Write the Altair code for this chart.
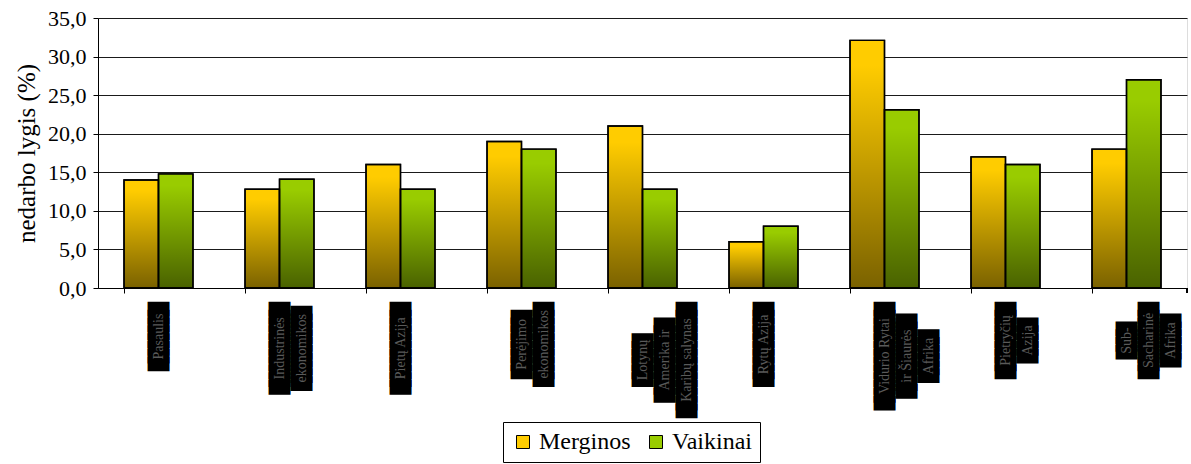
import altair as alt
import pandas as pd

# Regions, each given as the lines of its label
categories = [
    ["Pasaulis"],
    ["Industrinės", "ekonomikos"],
    ["Pietų Azija"],
    ["Perėjimo", "ekonomikos"],
    ["Lotynų", "Amerika ir", "Karibų salynas"],
    ["Rytų Azija"],
    ["Vidurio Rytai", "ir Šiaurės", "Afrika"],
    ["Pietryčių", "Azija"],
    ["Sub-", "Sacharinė", "Afrika"],
]
series = ["Merginos", "Vaikinai"]
merginos = [14.0, 12.8, 16.0, 19.0, 21.0, 6.0, 32.1, 17.0, 18.0]
vaikinai = [14.8, 14.1, 12.8, 18.0, 12.8, 8.0, 23.1, 16.0, 27.0]
y_ticks = [0, 5, 10, 15, 20, 25, 30, 35]

FONT = "Times New Roman, Liberation Serif, DejaVu Serif, serif"
W, H = 1089, 270
BLOCK_FS = 13                 # font size of the label backing blocks
BLOCK_W = 0.602 * BLOCK_FS    # advance of one monospace full-block glyph
BLOCK_STROKE = 6.5

keys = [" ".join(c) for c in categories]

bars = pd.DataFrame(
    [{"region": k, "grupe": s, "lygis": v}
     for k, m, b in zip(keys, merginos, vaikinai)
     for s, v in ((series[0], m), (series[1], b))]
)

# Category labels: rotated text on dark blocks, centred under each band,
# each block group starting just below the axis
labels = pd.DataFrame({
    "region": keys,
    "tekstas": ["|".join(c) for c in categories],
    "blokai": ["|".join("\u2588" * len(s) for s in c) for c in categories],
    "ly": [H + 14 + (max(len(s) for s in c) * BLOCK_W + BLOCK_STROKE) / 2 for c in categories],
})

x_enc = alt.X(
    "region:N",
    sort=keys,
    scale=alt.Scale(domain=keys, paddingInner=0.43, paddingOuter=0.215),
    axis=alt.Axis(labels=False, title=None, bandPosition=0, tickSize=5,
                  tickColor="black", domainColor="black", grid=False),
)
x_off = alt.XOffset("grupe:N", scale=alt.Scale(domain=series, paddingInner=0, paddingOuter=0))

y_enc = alt.Y(
    "lygis:Q",
    scale=alt.Scale(domain=[0, 35], nice=False),
    axis=alt.Axis(
        values=y_ticks,
        labelExpr="replace(format(datum.value, '.1f'), '.', ',')",
        labelOverlap=False,
        title="nedarbo lygis (%)",
        titleFont=FONT, titleFontSize=25, titleFontWeight="normal", titleColor="black",
        titlePadding=8,
        labelFont=FONT, labelFontSize=22, labelColor="black", labelPadding=7,
        tickSize=5, tickColor="black", domainColor="black",
        grid=True, gridColor="#1a1a1a", gridWidth=1,
    ),
)

base_bars = alt.Chart(bars).mark_bar(stroke="black", strokeWidth=1.4).encode(
    x=x_enc,
    xOffset=x_off,
    y=y_enc,
    color=alt.Color(
        "grupe:N",
        scale=alt.Scale(domain=series, range=["#FFCC00", "#99CC00"]),
        legend=alt.Legend(
            orient="none", legendX=405, legendY=404, direction="horizontal",
            title=None, strokeColor="black", padding=8,
            symbolType="square", symbolSize=169,
            symbolStrokeColor="black", symbolStrokeWidth=1,
            labelFont=FONT, labelFontSize=24, labelColor="black",
            columnPadding=13, labelOffset=4,
        ),
    ),
)

# Darkening toward the bottom of every bar
shade = alt.LinearGradient(
    gradient="linear",
    stops=[
        alt.GradientStop(color="rgba(0,0,0,0)", offset=0),
        alt.GradientStop(color="rgba(0,0,0,0)", offset=0.1),
        alt.GradientStop(color="rgba(0,0,0,0.52)", offset=1),
    ],
    x1=0, x2=0, y1=0, y2=1,
)
shade_bars = alt.Chart(bars).mark_bar(color=shade, stroke="black", strokeWidth=1.4).encode(
    x=x_enc,
    xOffset=x_off,
    y=y_enc,
)

# closing tick at the right end of the category axis
end_tick = alt.Chart(bars).mark_rule(color="black").encode(
    x=alt.value(W), y=alt.value(H), y2=alt.value(H + 5)
)

label_back = alt.Chart(labels).mark_text(
    angle=270, align="center", baseline="middle", lineBreak="|",
    font="DejaVu Sans Mono", fontSize=BLOCK_FS, lineHeight=22,
    color="black", stroke="black", strokeWidth=BLOCK_STROKE, strokeJoin="miter",
).encode(
    x=alt.X("region:N", sort=keys),
    y=alt.Y("ly:Q", scale=None, axis=None),
    text="blokai:N",
)
label_front = alt.Chart(labels).mark_text(
    angle=270, align="center", baseline="middle", lineBreak="|",
    font=FONT, fontSize=14, lineHeight=22, color="#5a5a5a",
).encode(
    x=alt.X("region:N", sort=keys),
    y=alt.Y("ly:Q", scale=None, axis=None),
    text="tekstas:N",
)

chart = alt.layer(base_bars, shade_bars, end_tick, label_back, label_front).properties(
    width=W,
    height=H,
    autosize=alt.AutoSizeParams(type="none"),
    padding={"left": 98, "top": 18, "right": 4, "bottom": 176},
).configure_view(stroke="transparent").configure(background="white")

chart.save("out.html", embed_options={"renderer": "svg", "actions": False})
